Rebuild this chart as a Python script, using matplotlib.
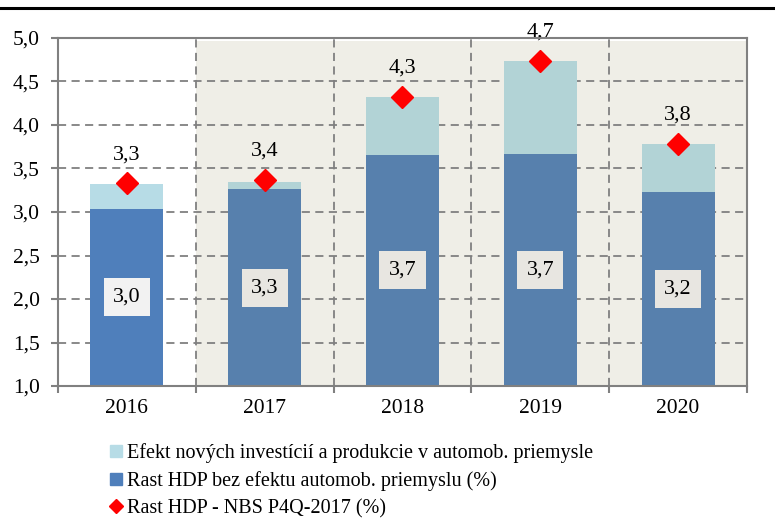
import matplotlib.pyplot as plt
from matplotlib.lines import Line2D
from matplotlib.patches import Rectangle
import numpy as np

plt.rcParams['font.family'] = ['Liberation Serif', 'DejaVu Serif']

years = ['2016', '2017', '2018', '2019', '2020']
base_growth = [3.04, 3.26, 3.66, 3.67, 3.23]      # Rast HDP bez efektu automob. priemyslu
auto_effect = [0.28, 0.09, 0.66, 1.07, 0.55]      # Efekt novych investicii
forecast = [3.33, 3.37, 4.32, 4.74, 3.78]         # NBS P4Q-2017

labels = ['Efekt nových investícií a produkcie v automob. priemysle',
          'Rast HDP bez efektu automob. priemyslu (%)',
          'Rast HDP - NBS P4Q-2017 (%)']

# 2016 is actual data, the rest is forecast (shaded)
blue_cols = ['#4f7fbb'] + ['#5780ad'] * 4
light_cols = ['#b7dce6'] + ['#b2d3d6'] * 4
box_cols = ['#f2f2f2'] + ['#e8e6e1'] * 4

x = np.arange(len(years))
w = 0.53

fig = plt.figure(figsize=(7.75, 5.29), dpi=100)
ax = fig.add_axes([0.0748, 0.2703, 0.8891, 0.6579])

ax.set_xlim(-0.5, 4.5)
ax.set_ylim(1.0, 5.0)

ax.add_patch(Rectangle((0.5, 1.0), 4.0, 3.965, facecolor='#efeee7',
                       edgecolor='none', zorder=0))

grid_kw = dict(color='#808080', lw=1.3, ls=(0, (4.5, 3)), zorder=1)
for yv in [1.5, 2.0, 2.5, 3.0, 3.5, 4.0, 4.5]:
    ax.axhline(yv, **grid_kw)
for xv in [0.5, 1.5, 2.5, 3.5]:
    ax.axvline(xv, **grid_kw)

bottom = [1.0] * len(years)
heights = [b - 1.0 for b in base_growth]
ax.bar(x, heights, w, bottom=bottom, color=blue_cols, zorder=2)
ax.bar(x, auto_effect, w, bottom=base_growth, color=light_cols, zorder=2)
ax.plot(x, forecast, 'D', color='#ff0000', markersize=11.5, zorder=3)

for i in range(len(years)):
    ax.text(x[i], (1.0 + base_growth[i]) / 2, f'{base_growth[i]:.1f}'.replace('.', ','),
            ha='center', va='center', fontsize=16, zorder=4,
            bbox=dict(boxstyle='square,pad=0.42', facecolor=box_cols[i], edgecolor='none'))
    ax.text(x[i], forecast[i] + 0.22, f'{forecast[i]:.1f}'.replace('.', ','),
            ha='center', va='bottom', fontsize=16, zorder=4, clip_on=False)

for s in ax.spines.values():
    s.set_color('#808080')
    s.set_linewidth(1.5)
    s.set_zorder(5)

ax.set_yticks([1.0, 1.5, 2.0, 2.5, 3.0, 3.5, 4.0, 4.5, 5.0])
ax.set_yticklabels([f'{v:.1f}'.replace('.', ',') for v in ax.get_yticks()], fontsize=15.5)
ax.set_xticks([-0.5, 0.5, 1.5, 2.5, 3.5, 4.5])
ax.set_xticklabels([])
ax.set_xticks(x, minor=True)
ax.set_xticklabels(years, minor=True, fontsize=15.5)
ax.tick_params(axis='both', which='major', color='#808080', width=1.5, length=5)
ax.tick_params(axis='y', which='major', pad=8)
ax.tick_params(axis='x', which='minor', length=0, pad=9)

handles = [
    Line2D([], [], marker='s', ls='none', color=light_cols[0], markersize=8),
    Line2D([], [], marker='s', ls='none', color=blue_cols[0], markersize=8),
    Line2D([], [], marker='D', ls='none', color='#ff0000', markersize=7),
]
fig.legend(handles, labels, loc='upper left', bbox_to_anchor=(0.132, 0.178),
           frameon=False, fontsize=14.5, handlelength=0.6, handletextpad=0.25,
           labelspacing=0.4, borderaxespad=0)

fig.add_artist(Line2D([0, 1], [0.985, 0.985], color='black', lw=2.2,
                      transform=fig.transFigure))

fig.savefig('out.png', dpi=100)
